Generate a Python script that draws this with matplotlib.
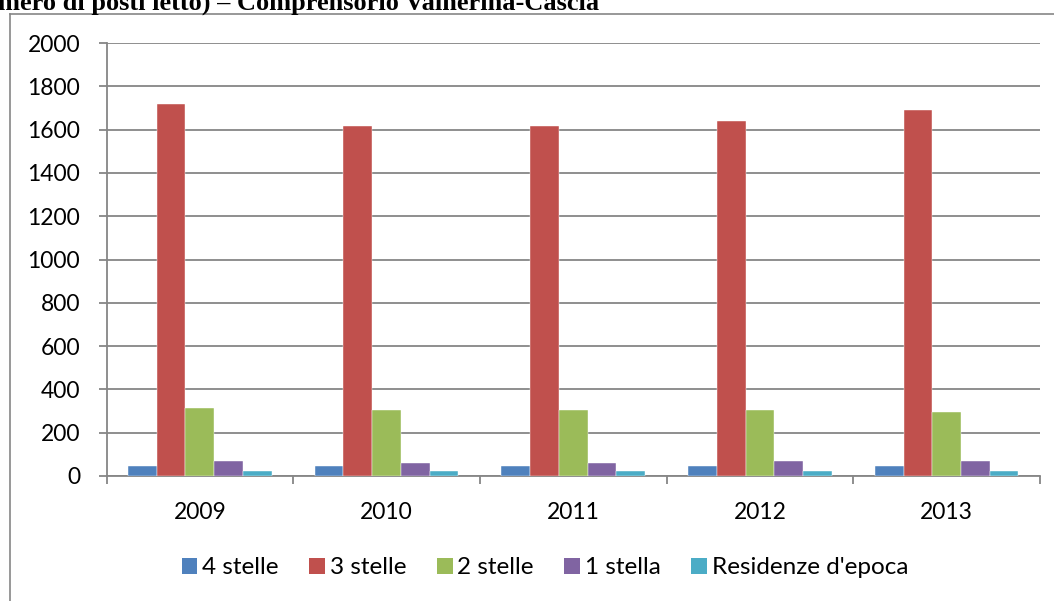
import matplotlib
matplotlib.use("Agg")
import matplotlib.pyplot as plt
from matplotlib.lines import Line2D
from matplotlib.patches import Patch
import numpy as np

years = ["2009", "2010", "2011", "2012", "2013"]
series_names = ["4 stelle", "3 stelle", "2 stelle", "1 stella", "Residenze d'epoca"]
stelle4 = [47, 47, 47, 47, 47]
stelle3 = [1717, 1615, 1615, 1642, 1692]
stelle2 = [314, 305, 305, 305, 296]
stella1 = [69, 60, 60, 69, 69]
residenze = [25, 25, 25, 25, 25]
colors = ["#4F81BD", "#C0504D", "#9BBB59", "#8064A2", "#4BACC6"]
title = "mero di posti letto) \u2013 Comprensorio Valnerina-Cascia"

W, H = 1054, 601
GRID = "#868686"
plt.rcParams["font.family"] = ["Lato", "DejaVu Sans"]

fig = plt.figure(figsize=(W / 100, H / 100), dpi=100)
ax = fig.add_axes([106.5 / W, 1 - 476 / H, (1040 - 106.5) / W, (476 - 43) / H])

values = [stelle4, stelle3, stelle2, stella1, residenze]
x = np.arange(len(years))
bw = 1 / 6.5  # gap width 150%
for i, (vals, name, c) in enumerate(zip(values, series_names, colors)):
    ax.bar(x - 2 * bw + i * bw, vals, width=bw, color=c, label=name,
           edgecolor="white", linewidth=0.3, zorder=3)

ax.set_xlim(-0.5, len(years) - 0.5)
ax.set_ylim(0, 2000)
ax.set_yticks(np.arange(0, 2001, 200))
ax.yaxis.grid(True, color=GRID, linewidth=1.3, zorder=0)
ax.set_axisbelow(True)

ax.set_xticks(np.arange(-0.5, len(years)), labels=[""] * (len(years) + 1))
ax.set_xticks(x, labels=years, minor=True)
ax.tick_params(axis="x", which="major", length=6, width=1.3, color=GRID, direction="out")
ax.tick_params(axis="x", which="minor", length=0, pad=19, labelsize=16.5)
ax.tick_params(axis="y", length=6, width=1.3, color=GRID, pad=13, labelsize=16.5)

for s in ["top", "right"]:
    ax.spines[s].set_visible(False)
for s in ["left", "bottom"]:
    ax.spines[s].set_color(GRID)
    ax.spines[s].set_linewidth(1.3)

handles = [Patch(facecolor=c) for c in colors]
fig.legend(handles, series_names, loc="center", bbox_to_anchor=(545 / W, 1 - 568 / H),
           ncol=5, frameon=False, fontsize=17.5, handlelength=0.65, handleheight=0.65,
           handletextpad=0.2, columnspacing=1.25, borderaxespad=0)

# outer chart border (clipped by the figure edge)
fig.add_artist(Line2D([10 / W, 10 / W], [0, 1 - 14 / H], color=GRID, lw=1.2))
fig.add_artist(Line2D([10 / W, 1], [1 - 14 / H, 1 - 14 / H], color=GRID, lw=1.2))

fig.text(-2 / W, 1 - 10 / H, title, family="Liberation Serif", weight="bold",
         fontsize=19, ha="left", va="baseline")

fig.savefig("out.png", dpi=100)
